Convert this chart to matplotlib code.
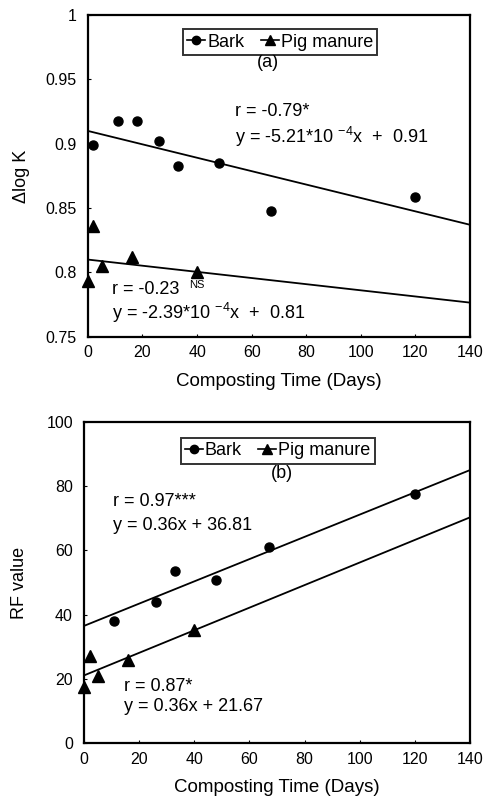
import numpy as np
import matplotlib
matplotlib.use("Agg")
import matplotlib.pyplot as plt

plt.rcParams['font.family'] = ['Liberation Sans', 'DejaVu Sans']
plt.rcParams['mathtext.fontset'] = 'custom'
plt.rcParams['mathtext.rm'] = 'Liberation Sans'

# panel (a): delta log K
bark_days_a = [2, 11, 18, 26, 33, 48, 67, 120]
bark_logk = [0.899, 0.918, 0.918, 0.902, 0.883, 0.885, 0.848, 0.859]
pig_days_a = [0, 2, 5, 16, 40]
pig_logk = [0.793, 0.836, 0.805, 0.812, 0.800]
bark_fit_a = (-5.21e-4, 0.91)
pig_fit_a = (-2.39e-4, 0.81)

# panel (b): RF value
bark_days_b = [11, 26, 33, 48, 67, 120]
bark_rf = [38.0, 43.8, 53.6, 50.7, 60.9, 77.6]
pig_days_b = [0, 2, 5, 16, 40]
pig_rf = [17.6, 27.0, 21.0, 25.8, 35.3]
# fitted lines as drawn in the figure
bark_fit_b = (0.346, 36.5)
pig_fit_b = (0.351, 21.1)

fit_x = np.array([0, 140])


def style_axes(ax, ylim, yticks, yticklabels):
    ax.set_xlim(0, 140)
    ax.set_ylim(*ylim)
    ax.set_xticks(range(0, 141, 20))
    ax.set_yticks(yticks)
    ax.set_yticklabels(yticklabels)
    ax.tick_params(direction='in', length=2, width=0.8, labelsize=11.5)
    ax.tick_params(axis='y', pad=8)
    ax.tick_params(axis='x', pad=6)
    for s in ax.spines.values():
        s.set_linewidth(1.6)
    ax.set_xlabel("Composting Time (Days)", fontsize=13.5, labelpad=9)


def add_legend(ax, box):
    h1, = ax.plot([], [], 'k-o', markersize=6, linewidth=1.2)
    h2, = ax.plot([], [], 'k-^', markersize=7.5, linewidth=1.2)
    leg = ax.legend([h1, h2], ["Bark", "Pig manure"], ncol=2, loc='upper center',
                    bbox_to_anchor=box, fontsize=13, frameon=True, fancybox=False,
                    edgecolor='black', handlelength=1.0, handletextpad=0.1,
                    columnspacing=0.9, borderpad=0.25)
    leg.get_frame().set_linewidth(1.4)


fig = plt.figure(figsize=(4.83, 7.98), dpi=100)

# ---- panel a
ax1 = fig.add_axes([0.182, 0.578, 0.791, 0.403])
ax1.plot(bark_days_a, bark_logk, 'ko', markersize=6.5, linestyle='none')
ax1.plot(pig_days_a, pig_logk, 'k^', markersize=8, linestyle='none', clip_on=False)
ax1.plot(fit_x, bark_fit_a[0] * fit_x + bark_fit_a[1], 'k-', linewidth=1.3)
ax1.plot(fit_x, pig_fit_a[0] * fit_x + pig_fit_a[1], 'k-', linewidth=1.3)
style_axes(ax1, (0.75, 1.0), [0.75, 0.8, 0.85, 0.9, 0.95, 1.0],
           ["0.75", "0.8", "0.85", "0.9", "0.95", "1"])
ax1.set_ylabel("\u0394log K", fontsize=13, labelpad=11)
add_legend(ax1, (0.503, 0.985))
ax1.text(66, 0.963, "(a)", ha='center', va='center', fontsize=13)
ax1.text(54, 0.925, "r = -0.79*", ha='left', va='center', fontsize=13)
ax1.text(54, 0.9055, r"y = -5.21*10 $^{\mathregular{-4}}$x  +  0.91", ha='left', va='center', fontsize=13)
ax1.text(9, 0.7865, "r = -0.23 ", ha='left', va='center', fontsize=13)
ax1.text(37, 0.7905, "NS", ha='left', va='center', fontsize=8)
ax1.text(9, 0.7686, r"y = -2.39*10 $^{\mathregular{-4}}$x  +  0.81", ha='left', va='center', fontsize=13)

# ---- panel b
ax2 = fig.add_axes([0.174, 0.0686, 0.799, 0.403])
ax2.plot(bark_days_b, bark_rf, 'ko', markersize=6.5, linestyle='none')
ax2.plot(pig_days_b, pig_rf, 'k^', markersize=8, linestyle='none', clip_on=False)
ax2.plot(fit_x, bark_fit_b[0] * fit_x + bark_fit_b[1], 'k-', linewidth=1.3)
ax2.plot(fit_x, pig_fit_b[0] * fit_x + pig_fit_b[1], 'k-', linewidth=1.3)
style_axes(ax2, (0, 100), range(0, 101, 20), [str(v) for v in range(0, 101, 20)])
ax2.set_ylabel("RF value", fontsize=13, labelpad=13)
add_legend(ax2, (0.502, 0.978))
ax2.text(71.7, 84, "(b)", ha='center', va='center', fontsize=13)
ax2.text(10.6, 75.3, "r = 0.97***", ha='left', va='center', fontsize=13)
ax2.text(10.6, 67.8, "y = 0.36x + 36.81", ha='left', va='center', fontsize=13)
ax2.text(14.5, 17.8, "r = 0.87*", ha='left', va='center', fontsize=13)
ax2.text(14.5, 11.5, "y = 0.36x + 21.67", ha='left', va='center', fontsize=13)

fig.savefig("out.png", dpi=100)
